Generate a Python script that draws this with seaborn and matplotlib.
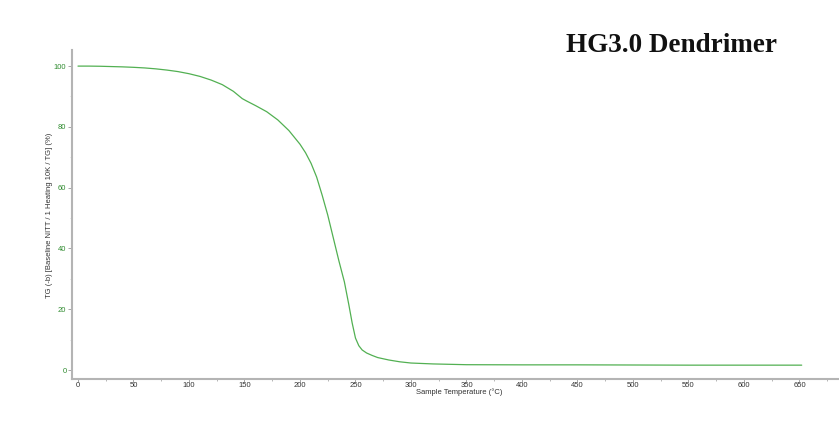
import numpy as np
import pandas as pd
import matplotlib
matplotlib.use("Agg")
import matplotlib.pyplot as plt
import seaborn as sns
from matplotlib.ticker import MultipleLocator

temperature = [0, 10, 20, 30, 40, 50, 60, 70, 80, 90, 100, 110, 120, 130, 140, 148,
               152, 160, 170, 180, 190, 200, 205, 210, 215, 220, 225, 230, 235, 240,
               244, 247, 250, 253, 256, 260, 265, 270, 280, 290, 300, 320, 350,
               400, 450, 500, 550, 600, 652]
tg_percent = [100, 100, 99.95, 99.85, 99.75, 99.6, 99.4, 99.1, 98.7, 98.2, 97.5, 96.6,
              95.4, 93.9, 91.7, 89.3, 88.5, 87.0, 85.0, 82.3, 78.8, 74.3, 71.5, 68.0,
              63.5, 57.5, 51.0, 43.5, 36.0, 29.0, 21.5, 15.5, 10.5, 8.0, 6.6, 5.6,
              4.8, 4.1, 3.3, 2.7, 2.3, 2.0, 1.75, 1.7, 1.7, 1.65, 1.6, 1.6, 1.6]
x_ticks = list(range(0, 651, 50))
y_ticks = [0, 20, 40, 60, 80, 100]
title_text = "HG3.0 Dendrimer"
x_label = "Sample Temperature (°C)"
y_label = "TG (-b) [Baseline NITT / 1 Heating 10K / TG] (%)"

df = pd.DataFrame({"T": temperature, "TG": tg_percent})

sns.set_theme(style="white")
plt.rcParams["font.family"] = ["Liberation Sans", "DejaVu Sans"]

fig = plt.figure(figsize=(8.39, 4.34), dpi=100)
ax = fig.add_axes([0.0858, 0.1267, 0.9142, 0.7581])

sns.lineplot(data=df, x="T", y="TG", ax=ax, color="#52b052", linewidth=0.9)

ax.set_xlim(-5.4, 685.6)
ax.set_ylim(-2.96, 105.3)
ax.set_xticks(x_ticks)
ax.set_yticks(y_ticks)
ax.xaxis.set_minor_locator(MultipleLocator(25))
ax.yaxis.set_minor_locator(MultipleLocator(10))

for s in ["top", "right"]:
    ax.spines[s].set_visible(False)
for s in ["left", "bottom"]:
    ax.spines[s].set_color("#b4b4b4")
    ax.spines[s].set_linewidth(1.5)

ax.tick_params(axis="x", which="major", length=2, width=0.6, color="#999999",
               labelsize=5.5, labelcolor="#333333", pad=0.5, direction="out", bottom=True)
ax.tick_params(axis="x", which="minor", length=1.5, width=0.5, color="#999999", bottom=True)
ax.tick_params(axis="y", which="major", length=3, width=0.6, color="#999999",
               labelsize=5.5, labelcolor="#2e8b2e", pad=1, direction="out", left=True)
ax.tick_params(axis="y", which="minor", length=1.5, width=0.5, color="#cccccc", left=True)

ax.set_xlabel(x_label, fontsize=5.5, color="#333333", va="center")
ax.xaxis.set_label_coords(0.505, -0.041)
ax.set_ylabel(y_label, fontsize=5.5, color="#333333", va="center")
ax.yaxis.set_label_coords(-0.0287, 0.498)

fig.text(672 / 839, 1 - 46 / 434, title_text, fontsize=19.5, fontweight="bold",
         family=["Liberation Serif", "DejaVu Serif"], ha="center", va="center",
         color="#111111")

fig.savefig("out.png", dpi=100)
